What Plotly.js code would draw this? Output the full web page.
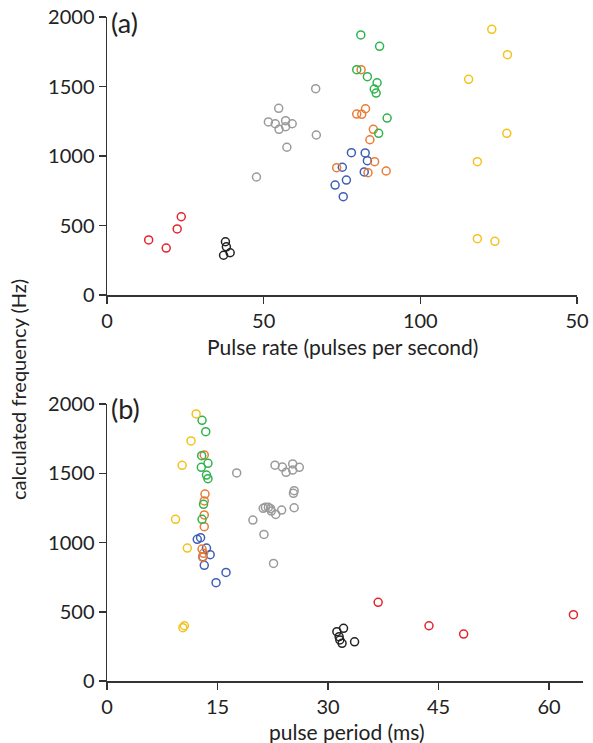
<!DOCTYPE html>
<html>
<head>
<meta charset="utf-8">
<script src="https://cdn.plot.ly/plotly-3.0.1.min.js"></script>
<style>html,body{margin:0;padding:0;background:#fff;}#plot{width:593px;height:743px;}</style>
</head>
<body>
<div id="plot"></div>
<script>
// ---------- Panel (a): pulse rate (pulses per second) vs calculated frequency (Hz)
const aRedX    = [13.3, 18.9, 22.4, 23.7];
const aRedY    = [396, 338, 475, 563];
const aBlackX  = [37.8, 38.1, 39.3, 37.2];
const aBlackY  = [383, 347, 304, 286];
const aGrayX   = [66.6, 54.8, 51.5, 53.7, 57.0, 54.9, 57.0, 59.1, 66.8, 57.4, 47.7];
const aGrayY   = [1484, 1343, 1245, 1232, 1254, 1192, 1211, 1232, 1151, 1063, 849];
const aBlueX   = [78.0, 82.4, 83.1, 75.1, 82.1, 76.4, 72.8, 75.4];
const aBlueY   = [1024, 1022, 966, 919, 885, 827, 791, 707];
const aOrangeX = [81.1, 82.5, 79.7, 81.3, 85.0, 83.9, 85.4, 89.1, 83.3, 73.3];
const aOrangeY = [1621, 1340, 1302, 1300, 1192, 1117, 959, 892, 880, 916];
const aGreenX  = [81.0, 87.0, 79.7, 83.1, 86.2, 85.3, 85.9, 89.4, 86.7];
const aGreenY  = [1871, 1789, 1621, 1571, 1527, 1482, 1453, 1273, 1163];
const aYellowX = [122.8, 127.8, 115.4, 127.6, 118.2, 118.2, 123.8];
const aYellowY = [1911, 1729, 1552, 1163, 959, 405, 386];
const aTickVals = [0, 50, 100, 150];
const aTickText = ['0', '50', '100', '50'];

// ---------- Panel (b): pulse period (ms) vs calculated frequency (Hz)
const bRedX    = [36.8, 43.7, 48.4, 63.3];
const bRedY    = [568, 399, 339, 479];
const bBlackX  = [32.1, 31.2, 31.5, 31.6, 31.9, 33.6];
const bBlackY  = [380, 356, 320, 296, 272, 283];
const bGrayX   = [17.6, 22.8, 23.8, 24.3, 25.2, 25.2, 26.1, 25.4, 25.3, 21.2, 21.5, 21.9, 22.2, 22.3, 22.9, 23.7, 25.4, 19.8, 21.3, 22.6];
const bGrayY   = [1502, 1558, 1545, 1507, 1567, 1523, 1543, 1374, 1355, 1247, 1254, 1254, 1244, 1227, 1203, 1234, 1251, 1162, 1058, 849];
const bBlueX   = [12.25, 12.7, 13.5, 14.0, 13.0, 13.2, 16.15, 14.8];
const bBlueY   = [1023, 1035, 960, 912, 898, 835, 784, 710];
const bOrangeX = [13.2, 13.3, 13.2, 13.2, 13.2, 12.9, 13.1, 13.0];
const bOrangeY = [1632, 1350, 1300, 1199, 1114, 953, 922, 893];
const bGreenX  = [12.9, 13.4, 12.85, 13.7, 12.8, 13.5, 13.7, 13.1, 12.9];
const bGreenY  = [1882, 1800, 1627, 1572, 1543, 1487, 1461, 1276, 1167];
const bYellowX = [12.1, 11.4, 10.2, 9.3, 10.9, 10.5, 10.3];
const bYellowY = [1928, 1733, 1557, 1167, 960, 399, 385];
const bTickVals = [0, 15, 30, 45, 60];

const yTickVals = [0, 500, 1000, 1500, 2000];

const COLORS = {
  red: '#e3242b', black: '#222222', gray: '#9a9a9a', blue: '#3d5fb4',
  orange: '#ec7b35', green: '#2fb34d', yellow: '#f3c21c'
};

function pts(x, y, color, xa, ya) {
  return {
    type: 'scatter', mode: 'markers', x: x, y: y, xaxis: xa, yaxis: ya,
    marker: { symbol: 'circle-open', size: 8, color: color, line: { width: 1.5, color: color } },
    hoverinfo: 'x+y', showlegend: false
  };
}

const data = [
  pts(aRedX, aRedY, COLORS.red, 'x', 'y'),
  pts(aBlackX, aBlackY, COLORS.black, 'x', 'y'),
  pts(aGrayX, aGrayY, COLORS.gray, 'x', 'y'),
  pts(aBlueX, aBlueY, COLORS.blue, 'x', 'y'),
  pts(aOrangeX, aOrangeY, COLORS.orange, 'x', 'y'),
  pts(aGreenX, aGreenY, COLORS.green, 'x', 'y'),
  pts(aYellowX, aYellowY, COLORS.yellow, 'x', 'y'),
  pts(bRedX, bRedY, COLORS.red, 'x2', 'y2'),
  pts(bBlackX, bBlackY, COLORS.black, 'x2', 'y2'),
  pts(bGrayX, bGrayY, COLORS.gray, 'x2', 'y2'),
  pts(bBlueX, bBlueY, COLORS.blue, 'x2', 'y2'),
  pts(bOrangeX, bOrangeY, COLORS.orange, 'x2', 'y2'),
  pts(bGreenX, bGreenY, COLORS.green, 'x2', 'y2'),
  pts(bYellowX, bYellowY, COLORS.yellow, 'x2', 'y2')
];

const W = 593, H = 743;
const px = v => v / W;
const py = v => 1 - v / H;
const FONT = { family: 'Lato, "Open Sans", sans-serif', size: 20, color: '#222' };
const TITLE_FONT = Object.assign({}, FONT, { size: 21 });
const PANEL_FONT = Object.assign({}, FONT, { size: 27 });

const axisCommon = {
  showline: true, linecolor: '#333', linewidth: 1.5,
  ticks: 'outside', ticklen: 7, tickwidth: 1.5, tickcolor: '#333',
  showgrid: false, zeroline: false, automargin: false,
  tickfont: FONT, fixedrange: true
};

const layout = {
  width: W, height: H,
  margin: { l: 0, r: 0, t: 0, b: 0 },
  paper_bgcolor: '#fff', plot_bgcolor: '#fff',
  font: FONT,
  xaxis: Object.assign({}, axisCommon, {
    domain: [px(107), px(577)], range: [0, 150], anchor: 'y',
    tickmode: 'array', tickvals: aTickVals, ticktext: aTickText
  }),
  yaxis: Object.assign({}, axisCommon, {
    domain: [py(295), py(17)], range: [0, 2000], anchor: 'x',
    tickmode: 'array', tickvals: yTickVals
  }),
  xaxis2: Object.assign({}, axisCommon, {
    domain: [px(107), px(583)], range: [0, 64.6], anchor: 'y2',
    tickmode: 'array', tickvals: bTickVals
  }),
  yaxis2: Object.assign({}, axisCommon, {
    domain: [py(681), py(404)], range: [0, 2000], anchor: 'x2',
    tickmode: 'array', tickvals: yTickVals
  }),
  annotations: [
    { text: 'Pulse rate (pulses per second)', xref: 'paper', yref: 'paper',
      x: px(342), y: py(347), xanchor: 'center', yanchor: 'middle', showarrow: false, font: TITLE_FONT },
    { text: 'pulse period (ms)', xref: 'paper', yref: 'paper',
      x: px(347), y: py(731), xanchor: 'center', yanchor: 'middle', showarrow: false, font: TITLE_FONT },
    { text: 'calculated frequency (Hz)', xref: 'paper', yref: 'paper', textangle: -90,
      x: px(18), y: py(390), xanchor: 'center', yanchor: 'middle', showarrow: false, font: FONT },
    { text: '(a)', xref: 'paper', yref: 'paper',
      x: px(109), y: py(22), xanchor: 'left', yanchor: 'middle', showarrow: false, font: PANEL_FONT },
    { text: '(b)', xref: 'paper', yref: 'paper',
      x: px(109), y: py(408), xanchor: 'left', yanchor: 'middle', showarrow: false, font: PANEL_FONT }
  ]
};

Plotly.newPlot('plot', data, layout, { displayModeBar: false, staticPlot: true });
</script>
</body>
</html>
